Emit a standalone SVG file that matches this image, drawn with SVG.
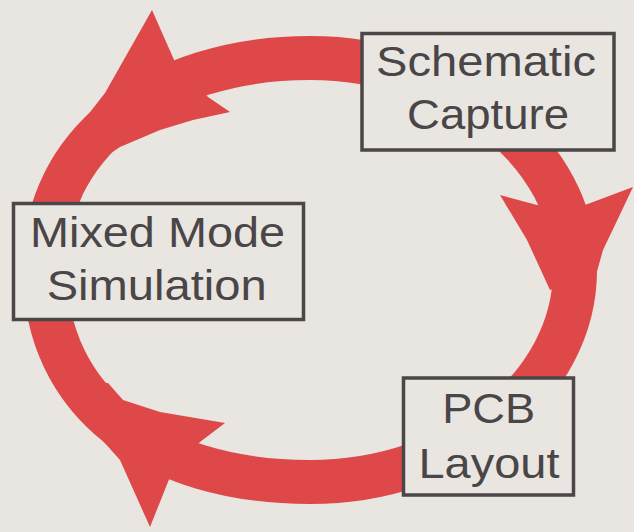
<svg xmlns="http://www.w3.org/2000/svg" width="634" height="532" viewBox="0 0 634 532">
  <style>
    .band { fill: none; stroke: #de4848; stroke-width: 44; }
    .head { fill: #de4848; stroke: none; }
    .box { fill: #e9e5e0; stroke: #4b4647; stroke-width: 3.5; }
    .lbl { font-family: "Liberation Sans", Arial, sans-serif; font-size: 43px; fill: #4a4546; text-anchor: middle; }
  </style>
  <rect x="0" y="0" width="634" height="532" fill="#e9e5e0"/>
  <g id="connectors">
    <path class="band" d="M310,58 C456,58 575,153 575,270 C575,387 456,482 310,482 C150,482 45,400 45,270 C42,145 155,58 310,58 Z"/>
    <path class="head" d="M152,10 L175,62 L208,97 L230,112 L193,120 L160,130 L120,147 L100,160 L72,142 L80,125 L105,93 Z"/>
    <path class="head" d="M500,195 L537,205 L585,205 L633,187 L615,225 L603,250 L596,275 L560,287 L550,290 L527,240 Z"/>
    <path class="head" d="M225,423 L200,442 L170,477 L150,527 L120,460 L60,393 L75,385 L108,383 L123,400 L160,412 Z"/>
  </g>
  <g id="schematic-capture">
    <rect class="box" x="362" y="33.5" width="252" height="116.5"/>
    <text class="lbl" x="486" y="76" textLength="220" lengthAdjust="spacingAndGlyphs">Schematic</text>
    <text class="lbl" x="488" y="129" textLength="162" lengthAdjust="spacingAndGlyphs">Capture</text>
  </g>
  <g id="mixed-mode-simulation">
    <rect class="box" x="13.5" y="203.5" width="290" height="116"/>
    <text class="lbl" x="157.5" y="247" textLength="255" lengthAdjust="spacingAndGlyphs">Mixed Mode</text>
    <text class="lbl" x="156.7" y="300" textLength="220" lengthAdjust="spacingAndGlyphs">Simulation</text>
  </g>
  <g id="pcb-layout">
    <rect class="box" x="403.5" y="378" width="170" height="117"/>
    <text class="lbl" x="488.7" y="423" textLength="93" lengthAdjust="spacingAndGlyphs">PCB</text>
    <text class="lbl" x="489" y="478" textLength="141" lengthAdjust="spacingAndGlyphs">Layout</text>
  </g>
</svg>
